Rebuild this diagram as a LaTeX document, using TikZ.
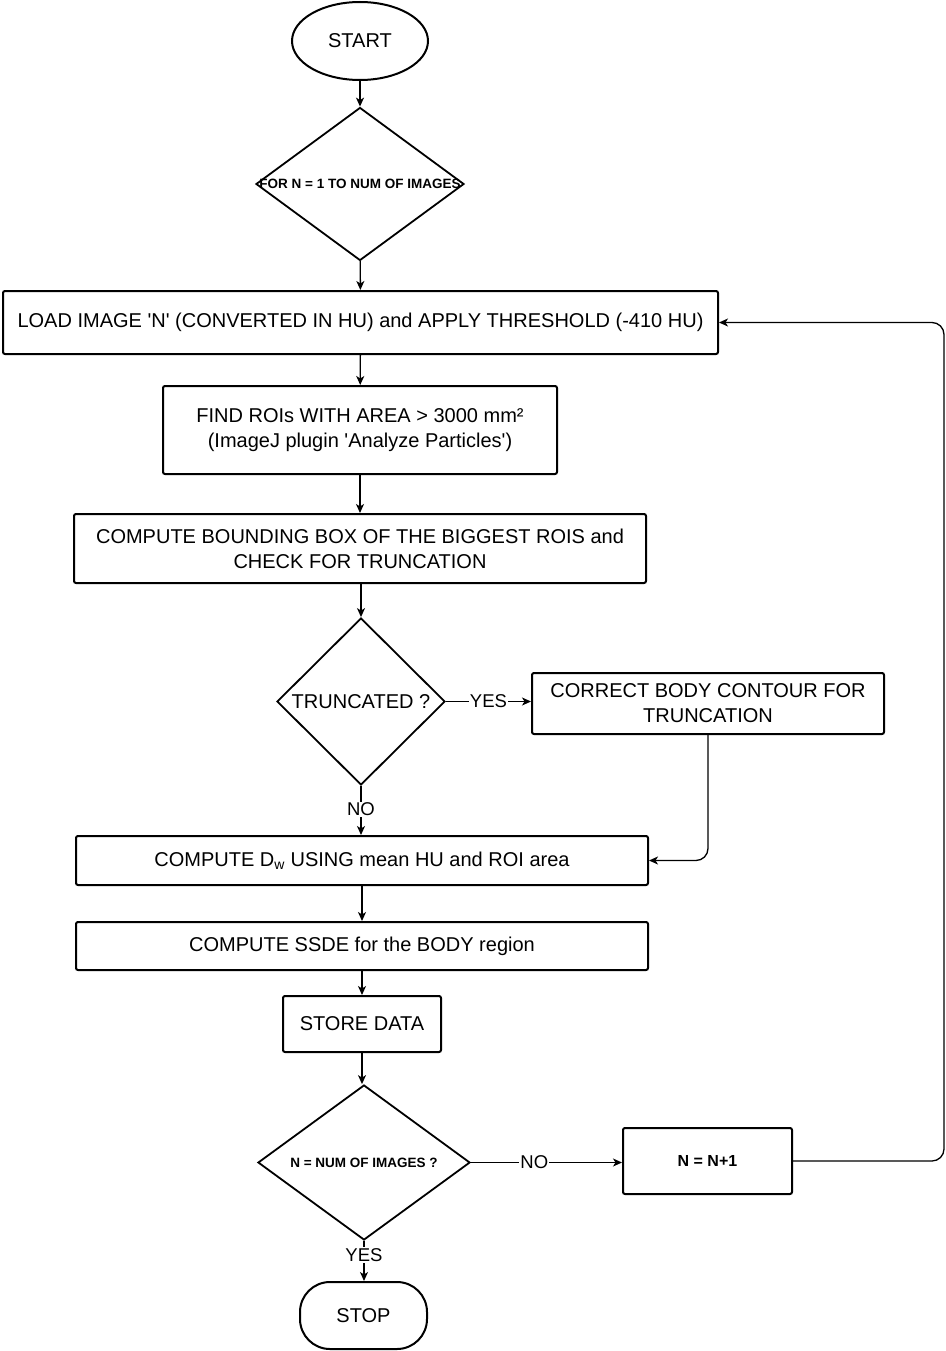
\documentclass[tikz,border=0pt]{standalone}
\usepackage{fontspec}
\setmainfont{Liberation Sans}
\usetikzlibrary{shapes.geometric,arrows.meta}
\newcommand{\sq}{\textquotesingle}
\begin{document}
\begin{tikzpicture}[x=1pt,y=-1pt,
  box/.style={draw, line width=2pt, rounded corners=2pt, inner sep=0pt, align=center, font=\fontsize{20}{25}\selectfont},
  dia/.style={draw, diamond, line width=1.8pt, inner sep=0pt, align=center},
  arr/.style={line width=1.3pt, -{Stealth[length=9pt,width=8pt,inset=2.5pt]}},
  lab/.style={fill=white, inner sep=1pt, font=\fontsize{18.5}{20}\selectfont}]
\useasboundingbox (0,0) rectangle (945,1351);
\node[draw, ellipse, line width=2pt, minimum width=136pt, minimum height=78pt, inner sep=0pt, font=\fontsize{20}{24}\selectfont] (start) at (360,41) {START};
\node[dia, minimum width=208pt, minimum height=153pt, font=\bfseries\fontsize{13.5}{15}\selectfont] (for) at (360,184) {\makebox[0pt]{FOR N = 1 TO NUM OF IMAGES}};
\node[box, minimum width=715pt, minimum height=63pt] (load) at (360.5,322.5) {LOAD IMAGE \sq N\sq{} (CONVERTED IN HU) and APPLY THRESHOLD (-410 HU)};
\node[box, minimum width=394pt, minimum height=88pt] (find) at (360,430) {FIND ROIs WITH AREA > 3000 mm²\\(ImageJ plugin \sq Analyze Particles\sq)};
\node[box, minimum width=572pt, minimum height=69pt] (bbox) at (360,548.5) {COMPUTE BOUNDING BOX OF THE BIGGEST ROIS and\\CHECK FOR TRUNCATION};
\node[dia, minimum width=168pt, minimum height=167pt, font=\fontsize{20}{24}\selectfont] (trunc) at (361,701.5) {\makebox[0pt]{TRUNCATED ?}};
\node[box, minimum width=352pt, minimum height=61pt] (correct) at (708,703.5) {CORRECT BODY CONTOUR FOR\\TRUNCATION};
\node[box, minimum width=572pt, minimum height=49pt] (dw) at (362,860.5) {COMPUTE D\textsubscript{w} USING mean HU and ROI area};
\node[box, minimum width=572pt, minimum height=48pt] (ssde) at (362,946) {COMPUTE SSDE for the BODY region};
\node[box, minimum width=158pt, minimum height=56pt] (store) at (362,1024) {STORE DATA};
\node[dia, minimum width=212pt, minimum height=155pt, font=\bfseries\fontsize{13.5}{15}\selectfont] (last) at (364,1162.5) {\makebox[0pt]{N = NUM OF IMAGES ?}};
\node[box, minimum width=169pt, minimum height=66pt, font=\bfseries\fontsize{16}{18}\selectfont] (inc) at (707.5,1161) {N = N+1};
\node[draw, line width=2pt, rounded corners=30pt, minimum width=127pt, minimum height=67pt, inner sep=0pt, font=\fontsize{20}{24}\selectfont] (stop) at (363.5,1315.5) {STOP};
\coordinate (loopx) at (944,0);
\draw[arr] (start) -- (for);
\draw[arr] (for) -- (load);
\draw[arr] (load) -- (find);
\draw[arr] (find) -- (bbox);
\draw[arr] (bbox.south -| trunc) -- (trunc);
\draw[arr] (trunc.east) -- node[lab] {YES} (correct.west |- trunc.east);
\draw[arr] (trunc.south) -- node[lab, pos=0.48] {NO} (dw.north -| trunc.south);
\draw[arr, rounded corners=12pt] (correct.south) |- (dw.east);
\draw[arr] (dw) -- (ssde);
\draw[arr] (ssde) -- (store);
\draw[arr] (store.south) -- (last.north -| store.south);
\draw[arr] (last.east) -- node[lab, pos=0.42] {NO} (inc.west |- last.east);
\draw[arr] (last.south) -- node[lab, pos=0.35] {YES} (stop.north -| last.south);
\draw[arr, rounded corners=12pt] (inc.east) -- (inc.east -| loopx) -- (load.east -| loopx) -- (load.east);
\end{tikzpicture}
\end{document}
